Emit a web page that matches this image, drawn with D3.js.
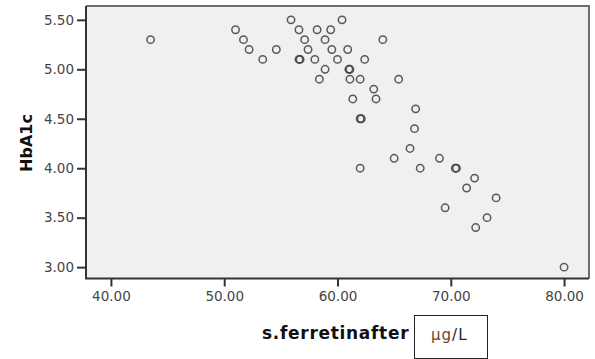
<!DOCTYPE html>
<html>
<head>
<meta charset="utf-8">
<style>
  body { margin: 0; background: #fff; }
  svg { display: block; }
</style>
</head>
<body>
<svg width="595" height="359"></svg>
<script src="https://d3js.org/d3.v7.min.js"></script>
<script>

// ferritin (x) and HbA1c (y)
var ferritin = [43.5, 51.0, 51.7, 52.2, 53.4, 54.6, 55.9, 56.6, 57.1, 57.4,
                56.6, 56.7, 58.0, 58.4, 58.2, 59.4, 58.9, 59.5, 60.9, 60.0,
                62.4, 64.0, 58.9, 61.1, 61.0, 61.1, 62.0, 65.4, 60.4, 63.2,
                61.35, 63.4, 66.9, 62.0, 62.1, 66.8, 66.4, 65.0, 69.0, 62.0,
                67.3, 70.5, 70.4, 72.1, 71.4, 74.0, 69.5, 73.2, 72.2, 80.0];
var hba1c = [5.3, 5.4, 5.3, 5.2, 5.1, 5.2, 5.5, 5.4, 5.3, 5.2,
             5.1, 5.1, 5.1, 4.9, 5.4, 5.4, 5.3, 5.2, 5.2, 5.1,
             5.1, 5.3, 5.0, 5.0, 5.0, 4.9, 4.9, 4.9, 5.5, 4.8,
             4.7, 4.7, 4.6, 4.5, 4.5, 4.4, 4.2, 4.1, 4.1, 4.0,
             4.0, 4.0, 4.0, 3.9, 3.8, 3.7, 3.6, 3.5, 3.4, 3.0];

var xTicks = [40, 50, 60, 70, 80],
    yTicks = [3.0, 3.5, 4.0, 4.5, 5.0, 5.5];

var svg = d3.select("svg");

var pLeft = 86, pRight = 589, pTop = 6, pBottom = 278.5;

var x = d3.scaleLinear().domain([37.8, 82.2]).range([pLeft, pRight]),
    y = d3.scaleLinear().domain([2.885, 5.64]).range([pBottom, pTop]);

// plot area
svg.append("rect")
    .attr("x", pLeft).attr("y", pTop)
    .attr("width", pRight - pLeft).attr("height", pBottom - pTop)
    .attr("fill", "#f0f0f0");

// top + right border (lighter)
svg.append("path")
    .attr("d", "M" + pLeft + "," + pTop + "H" + pRight + "V" + pBottom)
    .attr("fill", "none")
    .attr("stroke", "#6e6e6e")
    .attr("stroke-width", 2);

var fmt = d3.format(".2f");

var gx = svg.append("g")
    .attr("transform", "translate(0," + pBottom + ")")
    .call(d3.axisBottom(x).tickValues(xTicks).tickFormat(fmt).tickSize(8).tickPadding(5));

var gy = svg.append("g")
    .attr("transform", "translate(" + pLeft + ",0)")
    .call(d3.axisLeft(y).tickValues(yTicks).tickFormat(fmt).tickSize(9).tickPadding(3));

[gx, gy].forEach(function(g) {
  g.select(".domain").remove();
  g.selectAll("line").attr("stroke", "#333").attr("stroke-width", 2);
  g.selectAll("text")
      .attr("fill", "#444")
      .style("font-family", "DejaVu Sans")
      .style("font-size", "13.5px");
});

// left + bottom axis lines
svg.append("path")
    .attr("d", "M" + pLeft + "," + pTop + "V" + pBottom + "H" + pRight)
    .attr("fill", "none")
    .attr("stroke", "#333")
    .attr("stroke-width", 2);

// points
svg.append("g").selectAll("circle")
  .data(ferritin.map(function(d, i) { return [d, hba1c[i]]; }))
  .enter().append("circle")
    .attr("cx", function(d) { return x(d[0]); })
    .attr("cy", function(d) { return y(d[1]); })
    .attr("r", 3.7)
    .attr("fill", "none")
    .attr("stroke", "#333")
    .attr("stroke-opacity", 0.8)
    .attr("stroke-width", 1.5);

// axis titles
svg.append("text")
    .attr("transform", "translate(32,143) rotate(-90)")
    .attr("text-anchor", "middle")
    .style("font-family", "DejaVu Sans")
    .style("font-weight", "bold")
    .style("font-size", "16px")
    .attr("fill", "#111")
    .text("HbA1c");

svg.append("text")
    .attr("x", 262).attr("y", 339)
    .style("font-family", "DejaVu Sans")
    .style("font-weight", "bold")
    .style("font-size", "17px")
    .style("letter-spacing", "0.7px")
    .attr("fill", "#111")
    .text("s.ferretinafter");

// unit box
svg.append("rect")
    .attr("x", 414.5).attr("y", 315.5)
    .attr("width", 73).attr("height", 43)
    .attr("fill", "#fff")
    .attr("stroke", "#222")
    .attr("stroke-width", 1);

var unit = svg.append("text")
    .attr("x", 431).attr("y", 340)
    .style("font-family", "DejaVu Sans")
    .style("font-size", "15px")
    .style("letter-spacing", "1px");
unit.append("tspan").attr("fill", "#6b4630").text("\u00b5g");
unit.append("tspan").attr("fill", "#222").text("/L");

</script>
</body>
</html>
